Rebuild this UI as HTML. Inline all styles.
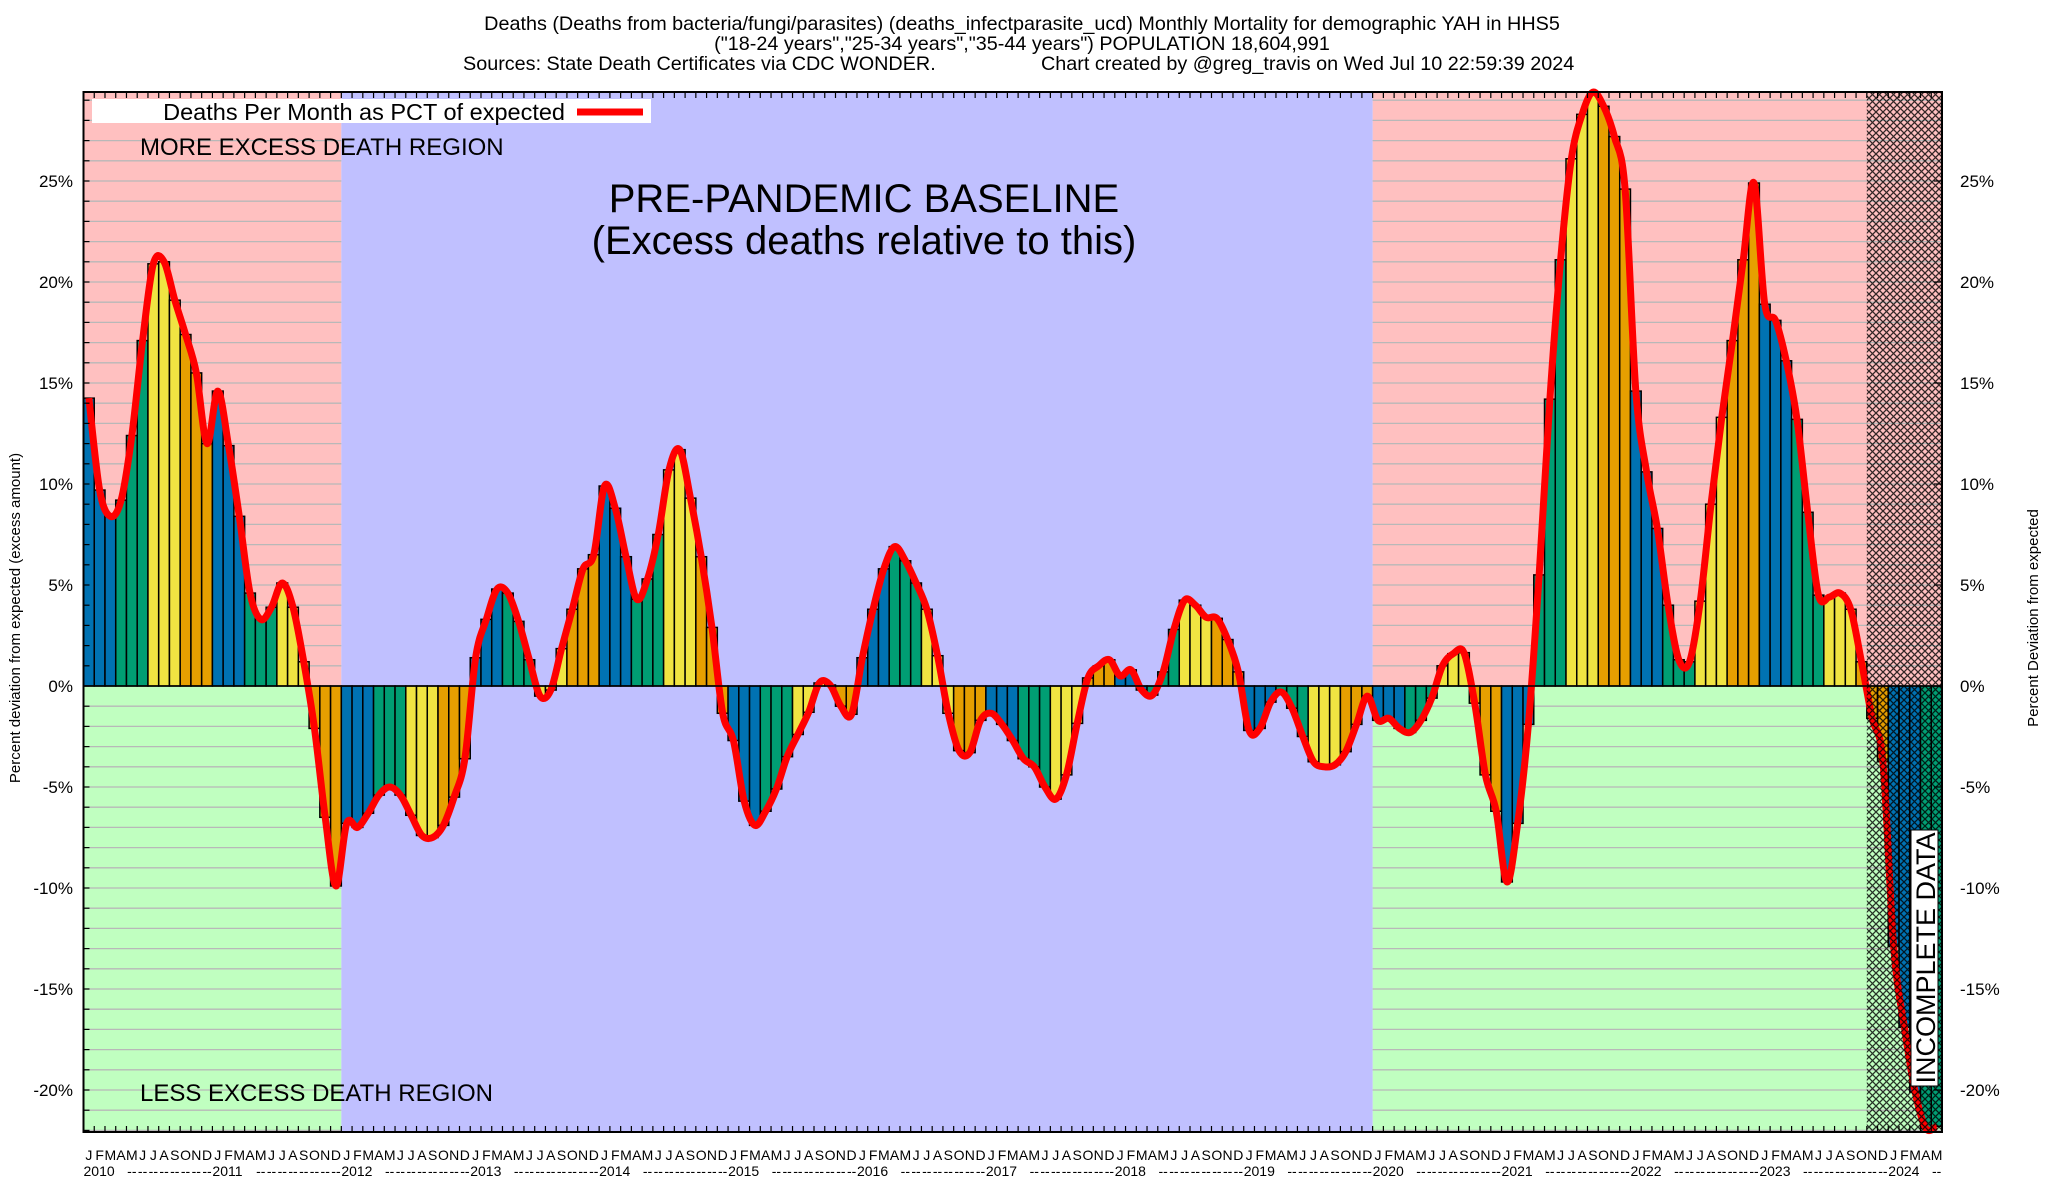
<!DOCTYPE html>
<html><head><meta charset="utf-8"><title>Monthly Mortality Chart</title>
<style>
html,body{margin:0;padding:0;background:#fff;}
svg{display:block;font-family:"Liberation Sans",Arial,sans-serif;}
</style></head>
<body>
<svg id="chart" xmlns="http://www.w3.org/2000/svg" width="2048" height="1200" viewBox="0 0 2048 1200">
<defs>
<pattern id="hatch" patternUnits="userSpaceOnUse" width="7" height="7">
<path d="M0,0 L7,7 M7,0 L0,7" stroke="#000" stroke-width="1.3" fill="none"/>
</pattern>
</defs>
<g id="regions"></g>
<g id="grid"></g>
<g id="bars"></g>
<g id="curve"></g>
<g id="hatchg"></g>
<g id="axes"></g>
<g id="labels"></g>
<g id="texts">
<text x="1022" y="30" font-size="19.8" text-anchor="middle">Deaths (Deaths from bacteria/fungi/parasites) (deaths_infectparasite_ucd) Monthly Mortality for demographic YAH in HHS5</text>
<text x="1022" y="50" font-size="19.8" text-anchor="middle">("18-24 years","25-34 years","35-44 years") POPULATION 18,604,991</text>
<text x="463" y="70" font-size="19.8">Sources: State Death Certificates via CDC WONDER.</text>
<text x="1041" y="70" font-size="19.8">Chart created by @greg_travis on Wed Jul 10 22:59:39 2024</text>
<rect x="92" y="99" width="559" height="24" fill="#fff"/>
<text x="565" y="120" font-size="23.5" text-anchor="end">Deaths Per Month as PCT of expected</text>
<line x1="577" y1="112" x2="643" y2="112" stroke="#ff0000" stroke-width="7"/>
<text x="140" y="155" font-size="24">MORE EXCESS DEATH REGION</text>
<text x="140" y="1101" font-size="24">LESS EXCESS DEATH REGION</text>
<text x="864" y="212" font-size="40" text-anchor="middle">PRE-PANDEMIC BASELINE</text>
<text x="864" y="254" font-size="40" text-anchor="middle">(Excess deaths relative to this)</text>
<text x="0" y="0" font-size="15" text-anchor="middle" transform="translate(20,618) rotate(-90)">Percent deviation from expected (excess amount)</text>
<text x="0" y="0" font-size="15" text-anchor="middle" transform="translate(2038,618) rotate(-90)">Percent Deviation from expected</text>
<g transform="translate(1925,958) rotate(-90)">
<rect x="-128" y="-14" width="256" height="27" fill="#fff" stroke="#000" stroke-width="1"/>
<text x="0" y="10" font-size="27" text-anchor="middle">INCOMPLETE DATA</text>
</g>
</g>
</svg>
<script>
// ---- data ----
const startYear = 2010;
const monthLetters = ["J","F","M","A","M","J","J","A","S","O","N","D"];
const values2010 = [14.25, 9.7, 8.4, 9.2, 12.4, 17.1, 20.9, 21.0, 19.1, 17.4, 15.5, 12.0];
const values2011 = [14.6, 11.9, 8.4, 4.6, 3.3, 3.9, 5.1, 3.9, 1.2, -2.1, -6.5, -9.9];
const values2012 = [-6.8, -7.0, -6.3, -5.4, -5.0, -5.4, -6.4, -7.4, -7.5, -6.9, -5.5, -3.6];
const values2013 = [1.4, 3.3, 4.8, 4.6, 3.2, 1.3, -0.5, -0.2, 1.85, 3.8, 5.8, 6.5];
const values2014 = [9.9, 8.8, 6.4, 4.3, 5.3, 7.5, 10.7, 11.7, 9.3, 6.4, 2.9, -1.35];
const values2015 = [-2.7, -5.7, -6.9, -6.2, -5.1, -3.5, -2.4, -1.3, 0.15, 0.05, -1.0, -1.4];
const values2016 = [1.4, 3.8, 5.8, 6.9, 6.2, 5.1, 3.8, 1.5, -1.35, -3.2, -3.3, -1.7];
const values2017 = [-1.35, -1.9, -2.7, -3.6, -4.0, -5.0, -5.6, -4.4, -1.85, 0.4, 1.0, 1.3];
const values2018 = [0.5, 0.8, -0.2, -0.45, 0.7, 2.8, 4.25, 4.0, 3.4, 3.35, 2.3, 0.7];
const values2019 = [-2.2, -2.1, -0.8, -0.3, -1.1, -2.5, -3.75, -4.0, -3.9, -3.25, -1.9, -0.5];
const values2020 = [-1.7, -1.6, -2.1, -2.3, -1.7, -0.6, 1.0, 1.6, 1.65, -0.85, -4.4, -6.2];
const values2021 = [-9.7, -6.8, -1.9, 5.5, 14.2, 21.1, 26.1, 28.3, 29.4, 28.7, 27.2, 24.6];
const values2022 = [14.6, 10.6, 7.8, 4.0, 1.3, 1.2, 4.2, 9.0, 13.3, 17.1, 21.1, 24.9];
const values2023 = [18.9, 18.1, 16.1, 13.2, 8.6, 4.5, 4.4, 4.6, 3.8, 1.2, -1.6, -3.75];
const values2024 = [-12.9, -16.9, -20.1, -21.9, -21.8];
const yTicks = [-20, -15, -10, -5, 0, 5, 10, 15, 20, 25];
const yTickLabels = ["-20%","-15%","-10%","-5%","0%","5%","10%","15%","20%","25%"];
const baselineStartMonth = 24;   // Jan 2012
const baselineEndMonth = 120;    // Jan 2020
const incompleteStartMonth = 166; // Nov 2023

const values = [].concat(values2010, values2011, values2012, values2013, values2014,
  values2015, values2016, values2017, values2018, values2019, values2020,
  values2021, values2022, values2023, values2024);

// ---- layout ----
const NS = "http://www.w3.org/2000/svg";
const L = 83.5, R = 1942, T = 92, B = 1132;
const Y0 = 686, PX = 20.2;
const N = values.length;
const bw = (R - L) / N;
const xs = i => L + i * bw;
const xc = i => L + (i + 0.5) * bw;
const ys = v => Y0 - v * PX;
const yMin = (Y0 - B) / PX, yMax = (Y0 - T) / PX;
const barColors = ["#0072b2", "#009e73", "#f0e442", "#e69f00"];

function el(tag, attrs, parent) {
  const e = document.createElementNS(NS, tag);
  for (const k in attrs) e.setAttribute(k, attrs[k]);
  parent.appendChild(e);
  return e;
}
const gReg = document.getElementById("regions");
const gGrid = document.getElementById("grid");
const gBars = document.getElementById("bars");
const gCurve = document.getElementById("curve");
const gHatch = document.getElementById("hatchg");
const gAxes = document.getElementById("axes");
const gLab = document.getElementById("labels");

let r;
r = el("rect", {x: L, y: T, width: xs(baselineStartMonth) - L, height: Y0 - T, fill: "#ffc0c0"}, gReg);


r = el("rect", {x: L, y: Y0, width: xs(baselineStartMonth) - L, height: B - Y0, fill: "#c0ffc0"}, gReg);


r = el("rect", {x: xs(baselineEndMonth), y: T, width: R - xs(baselineEndMonth), height: Y0 - T, fill: "#ffc0c0"}, gReg);


r = el("rect", {x: xs(baselineEndMonth), y: Y0, width: R - xs(baselineEndMonth), height: B - Y0, fill: "#c0ffc0"}, gReg);



for (let v = Math.ceil(yMin); v <= Math.floor(yMax); v++) {
  if (v === 0) continue;
  const y = ys(v);
  let g1 = el("line", {x1: L, x2: xs(baselineStartMonth), y1: y, y2: y, stroke: "#b8b8b8", "stroke-width": 1.3}, gGrid);
  
  
  let g2 = el("line", {x1: xs(baselineEndMonth), x2: R, y1: y, y2: y, stroke: "#b8b8b8", "stroke-width": 1.3}, gGrid);
  
  
}

r = el("rect", {x: xs(baselineStartMonth), y: T, width: xs(baselineEndMonth) - xs(baselineStartMonth), height: B - T, fill: "#c0c0ff"}, gReg);



for (let i = 0; i < N; i++) {
  const v = values[i];
  const y = Math.max(ys(Math.min(v, yMax)), T);
  const yb = ys(Math.max(v, yMin));
  const h = v < 0 ? (yb - Y0) : (Y0 - y);
  const b = el("rect", {x: xs(i), y: v >= 0 ? y : Y0, width: bw, height: Math.max(h, 0.5),
    fill: barColors[Math.floor((i % 12) / 3)], stroke: "#000", "stroke-width": 1.5}, gBars);
  
  
}

const pts = values.map((v, i) => [xc(i), ys(v)]);
let d = "M" + pts[0][0] + "," + pts[0][1];
for (let i = 0; i < pts.length - 1; i++) {
  const p0 = pts[Math.max(i - 1, 0)], p1 = pts[i], p2 = pts[i + 1], p3 = pts[Math.min(i + 2, pts.length - 1)];
  const c1x = p1[0] + (p2[0] - p0[0]) / 6, c1y = p1[1] + (p2[1] - p0[1]) / 6;
  const c2x = p2[0] - (p3[0] - p1[0]) / 6, c2y = p2[1] - (p3[1] - p1[1]) / 6;
  d += " C" + c1x + "," + c1y + " " + c2x + "," + c2y + " " + p2[0] + "," + p2[1];
}
const line = el("path", {d: d, fill: "none", stroke: "#ff0000", "stroke-width": 7, "stroke-linejoin": "round"}, gCurve);



r = el("rect", {x: xs(incompleteStartMonth), y: T, width: R - xs(incompleteStartMonth), height: B - T, fill: "url(#hatch)", opacity: 0.8}, gHatch);



r = el("rect", {x: L, y: T, width: R - L, height: B - T, fill: "none", stroke: "#000", "stroke-width": 2}, gAxes);


const zl = el("line", {x1: L, x2: R, y1: Y0, y2: Y0, stroke: "#000", "stroke-width": 1.5}, gAxes);



for (let i = 0; i <= N; i++) {
  const x = xs(i);
  const t1 = el("line", {x1: x, x2: x, y1: T, y2: T + 6, stroke: "#000", "stroke-width": 1.2}, gAxes);
  
  
  const t2 = el("line", {x1: x, x2: x, y1: B, y2: B - 6, stroke: "#000", "stroke-width": 1.2}, gAxes);
  
  
}
for (let v = Math.ceil(yMin); v <= Math.floor(yMax); v++) {
  const t = el("line", {x1: L, x2: L + 6, y1: ys(v), y2: ys(v), stroke: "#000", "stroke-width": 1.2}, gAxes);
  
  
}
for (let k = 0; k < yTicks.length; k++) {
  const y = ys(yTicks[k]);
  const t = el("line", {x1: R - 8, x2: R, y1: y, y2: y, stroke: "#000", "stroke-width": 1.2}, gAxes);
  
  
  const a = el("text", {x: 73, y: y + 6, "font-size": 17, "text-anchor": "end"}, gLab);
  
  
  a.textContent = yTickLabels[k];
  const b = el("text", {x: 1960, y: y + 6, "font-size": 17}, gLab);
  
  
  b.textContent = yTickLabels[k];
}
for (let i = 0; i < N; i++) {
  const m = el("text", {x: xc(i), y: 1160, "font-size": 14, "text-anchor": "middle"}, gLab);
  
  
  m.textContent = monthLetters[i % 12];
  const yr = el("text", {x: i % 12 === 0 ? xs(i) : xc(i), y: 1176, "font-size": 14, "text-anchor": i % 12 === 0 ? "start" : "middle"}, gLab);
  
  
  yr.textContent = i % 12 === 0 ? String(startYear + i / 12) : (i % 12 < 4 ? "" : "--");
}
</script>
</body></html>
